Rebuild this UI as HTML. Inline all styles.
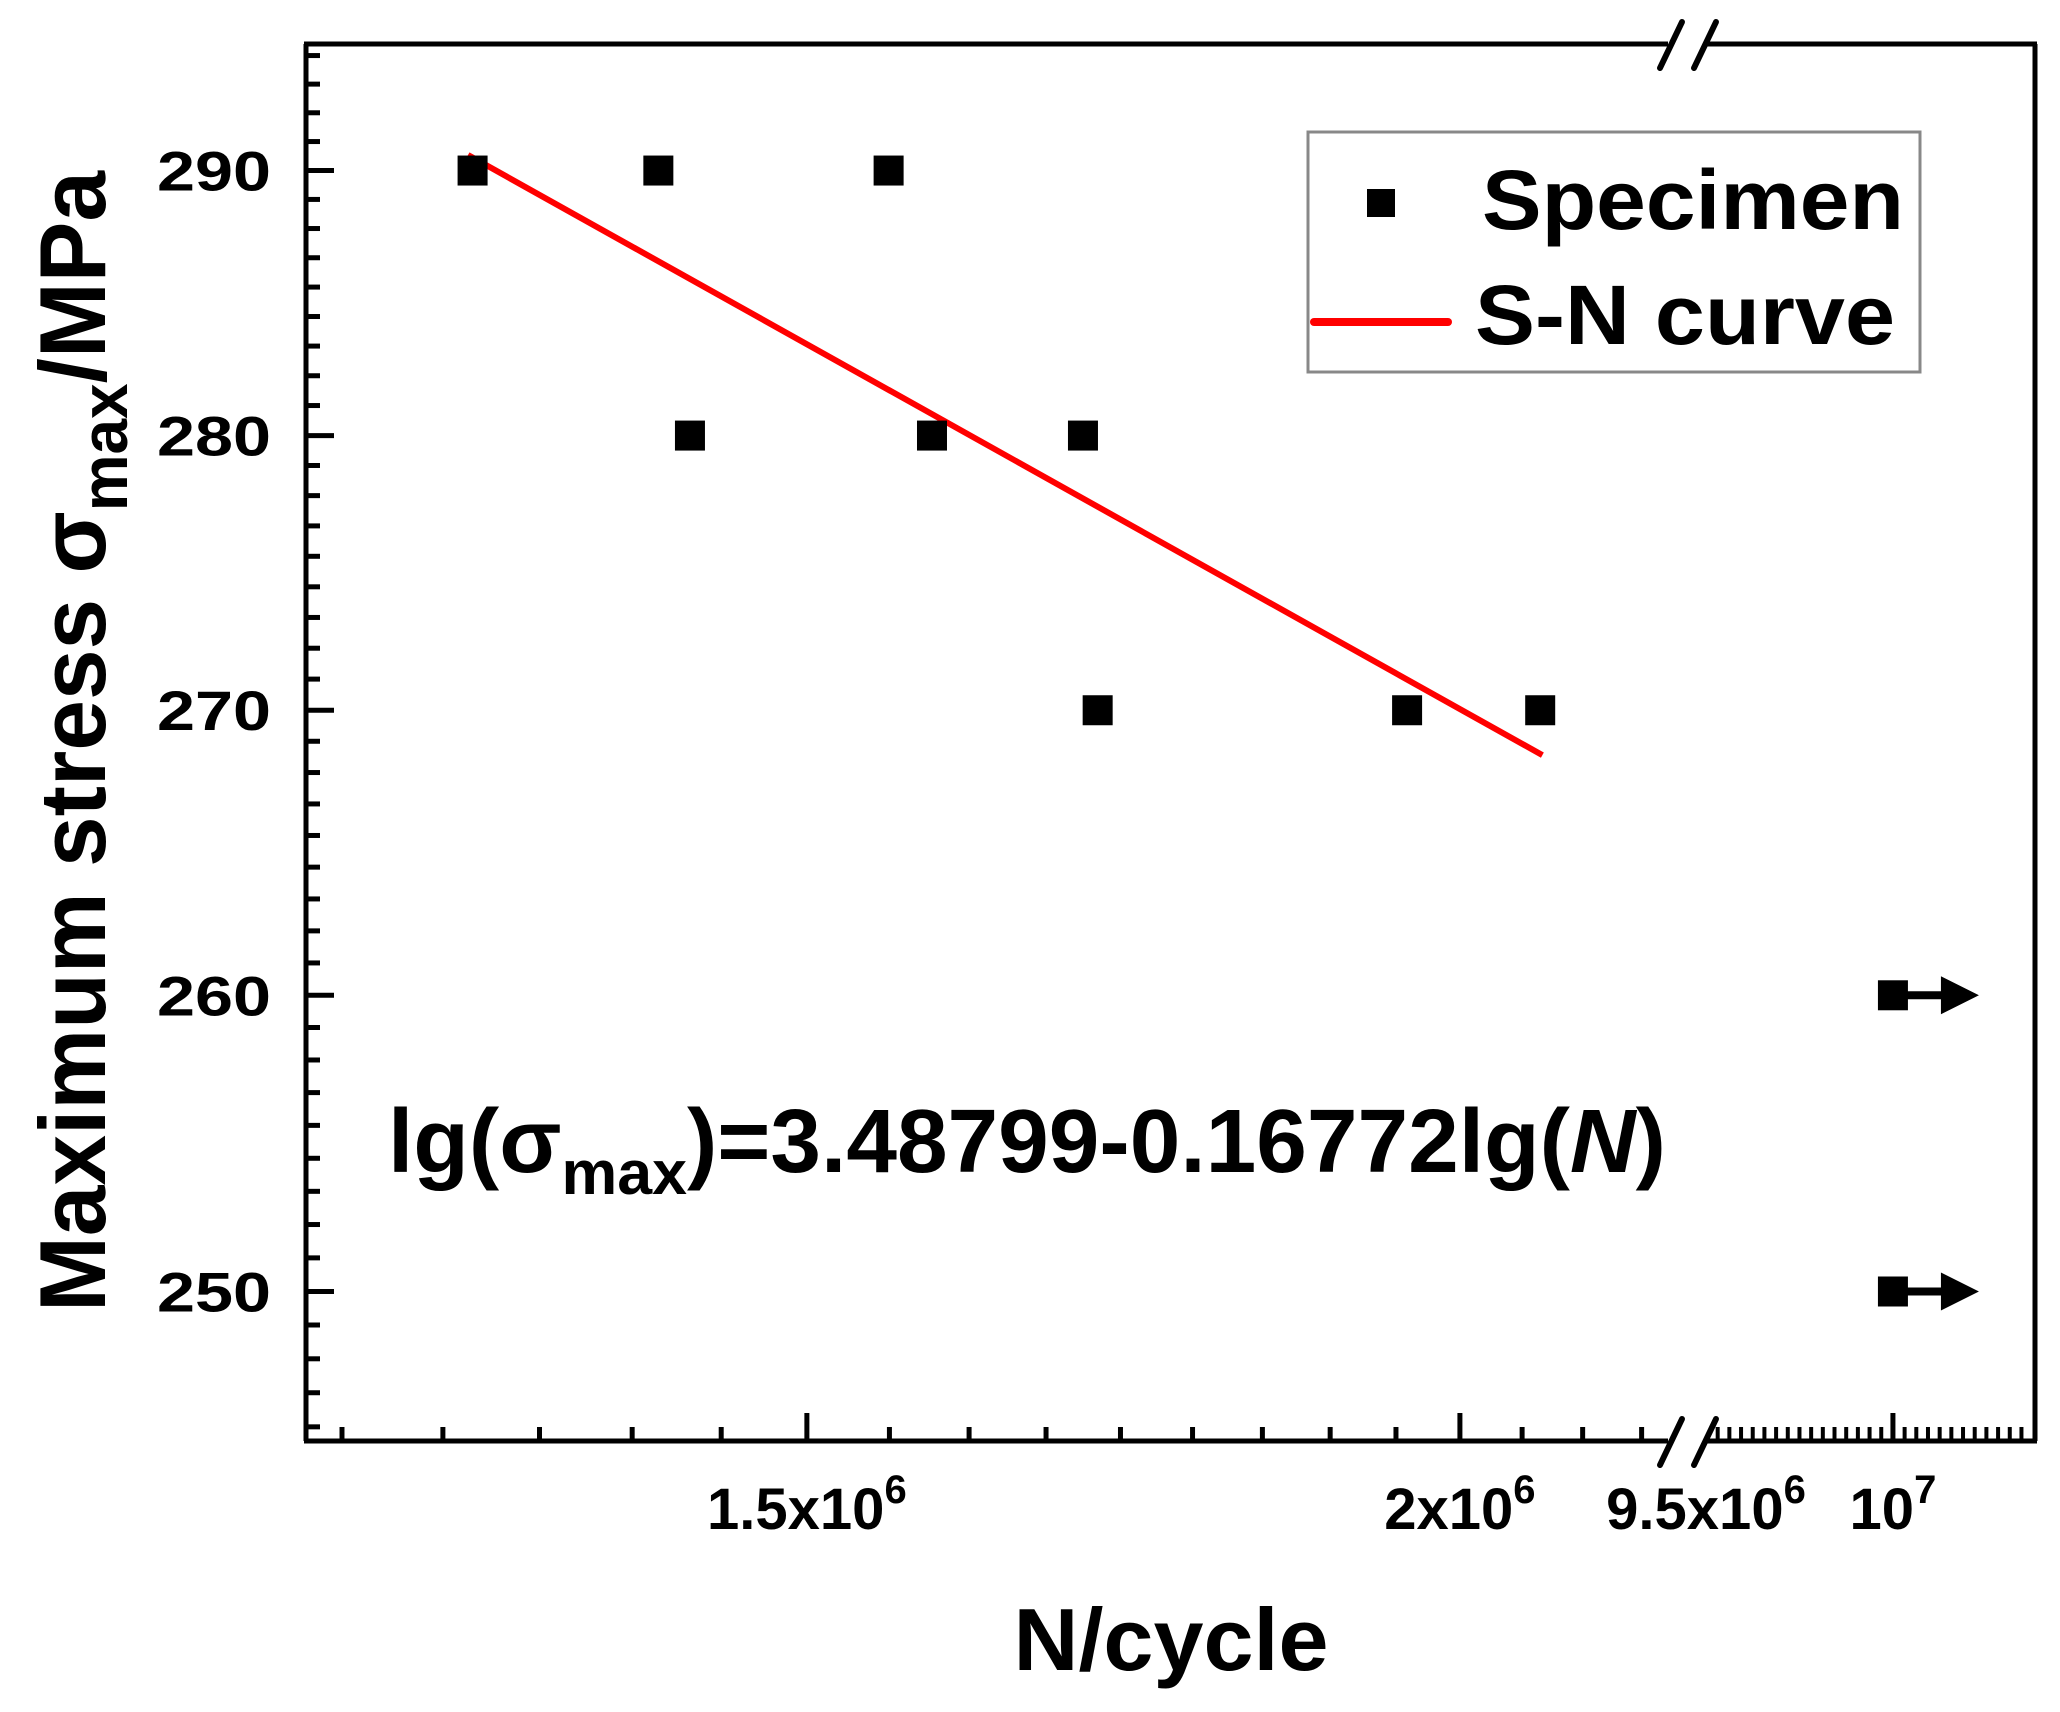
<!DOCTYPE html>
<html><head><meta charset="utf-8"><style>
html,body{margin:0;padding:0;background:#fff;}
svg{display:block;font-family:"Liberation Sans",Arial,sans-serif;font-weight:bold;}
</style></head><body>
<svg id="chart" width="2060" height="1712" viewBox="0 0 2060 1712" xmlns="http://www.w3.org/2000/svg">
<g id="axes"></g>
<g id="marks"></g>
<g>
  <rect x="1308" y="132" width="612" height="240" fill="#fff" stroke="#888" stroke-width="3"/>
  <rect x="1367" y="189" width="28" height="28" fill="#000"/>
  <text x="1482" y="229" font-size="84" textLength="422" lengthAdjust="spacingAndGlyphs">Specimen</text>
  <line x1="1314" y1="322" x2="1448" y2="322" stroke="#f00" stroke-width="8" stroke-linecap="round"/>
  <text x="1475" y="344" font-size="84" textLength="420" lengthAdjust="spacingAndGlyphs">S-N curve</text>
</g>
<text x="388" y="1172" font-size="90" textLength="1278" lengthAdjust="spacingAndGlyphs">lg(σ<tspan font-size="62" dy="22">max</tspan><tspan dy="-22">)=3.48799-0.16772lg(</tspan><tspan font-style="italic">N</tspan>)</text>
<text x="1171" y="1670" font-size="88" text-anchor="middle" textLength="315" lengthAdjust="spacingAndGlyphs">N/cycle</text>
<text transform="translate(105,1312) rotate(-90)" x="0" y="0" font-size="94" textLength="1141" lengthAdjust="spacingAndGlyphs">Maximum stress σ<tspan font-size="66" dy="22">max</tspan><tspan dy="-22">/MPa</tspan></text>
</svg>
<script>
// data
const specimenN = [1.2946e6, 1.405e6, 1.555e6, 1.4247e6, 1.585e6, 1.694e6, 1.705e6, 1.954e6, 2.072e6];
const specimenS = [290, 290, 290, 280, 280, 280, 270, 270, 270];
const runoutN = [1e7, 1e7];
const runoutS = [260, 250];
const curveN = [1.292e6, 2.074e6];
const curveS = [290.6, 268.4];
const yTicks = [250, 260, 270, 280, 290];
const yTickLabels = ["250", "260", "270", "280", "290"];
const xTicks1 = [1.5e6, 2e6];
const xTickLabels1 = ["1.5x10", "2x10"];
const xTickExp1 = ["6", "6"];
const xTicks2 = [9.5e6, 1e7];
const xTickLabels2 = ["9.5x10", "10"];
const xTickExp2 = ["6", "7"];

// layout
const L = 306, R = 2035, T = 44, B = 1441;
const ns = "http://www.w3.org/2000/svg";
const yMin = 245.1, yMax = 294.9;
function y(v){ return B - (Math.log10(v) - Math.log10(yMin)) / (Math.log10(yMax) - Math.log10(yMin)) * (B - T); }
const x1Min = 1.203e6, x1Max = 2.192e6, brk1 = 1668, brk2 = 1706;
function x(v){
  if (v <= x1Max) return L + (Math.log10(v) - Math.log10(x1Min)) / (Math.log10(x1Max) - Math.log10(x1Min)) * (brk1 - L);
  const a = 9.5e6, b = 1.038e7;
  return brk2 + (v - a) / (b - a) * (R - brk2);
}
function el(tag, attrs, parent){
  const e = document.createElementNS(ns, tag);
  for (const k in attrs) e.setAttribute(k, attrs[k]);
  parent.appendChild(e); return e;
}
const axes = document.getElementById('axes');
const marks = document.getElementById('marks');
const sw = 5;
let p;
p = el('line', {x1:L, y1:T, x2:L, y2:B, stroke:'#000','stroke-width':sw}, axes);


p = el('line', {x1:R, y1:T, x2:R, y2:B, stroke:'#000','stroke-width':sw}, axes);


p = el('path', {d:`M${L-2},${T}H${brk1}M${brk2},${T}H${R+2}`, stroke:'#000','stroke-width':sw, fill:'none'}, axes);


p = el('path', {d:`M${L-2},${B}H${brk1}M${brk2},${B}H${R+2}`, stroke:'#000','stroke-width':sw, fill:'none'}, axes);


[T, B].forEach(function(yy){
  const g = el('path', {d:`M${brk1-8},${yy+24}L${brk1+14},${yy-22}M${brk2-12},${yy+24}L${brk2+10},${yy-22}`, stroke:'#000','stroke-width':6,'stroke-linecap':'round', fill:'none'}, axes);
  
  
});
for (let v = 245.56; v < yMax; v += 10/9) {
  const major = yTicks.some(t => Math.abs(t - v) < 0.3);
  if (major) continue;
  const t = el('line', {x1:L, y1:y(v), x2:L+14, y2:y(v), stroke:'#000','stroke-width':5}, axes);
  
  
}
yTicks.forEach(function(v, i){
  const t = el('line', {x1:L, y1:y(v), x2:L+28, y2:y(v), stroke:'#000','stroke-width':5}, axes);
  
  
  const tx = el('text', {x:271, y:y(v)+20, 'font-size':56, 'text-anchor':'end', textLength:114, lengthAdjust:'spacingAndGlyphs'}, axes);
  tx.textContent = yTickLabels[i];
  
  
});
for (let k = -6; k <= 12; k++) {
  const v = 1.5e6 + k * 0.5e6 / 9;
  if (v <= x1Min || v >= x1Max) continue;
  if (k === 0 || k === 9) continue;
  const t = el('line', {x1:x(v), y1:B, x2:x(v), y2:B-14, stroke:'#000','stroke-width':5}, axes);
  
  
}
for (let k = 1; k < 40; k++) {
  const v = 9.5e6 + k * 0.5e6 / 16;
  if (x(v) >= R - 8 || k === 16) continue;
  const t = el('line', {x1:x(v), y1:B, x2:x(v), y2:B-14, stroke:'#000','stroke-width':4}, axes);
  
  
}
function xLabel(v, base, exp, showTick){
  if (showTick) {
    const t = el('line', {x1:x(v), y1:B, x2:x(v), y2:B-28, stroke:'#000','stroke-width':5}, axes);
    
    
  }
  const tx = el('text', {x:x(v), y:1529, 'font-size':58, 'text-anchor':'middle'}, axes);
  
  
  tx.textContent = base;
  const sp = el('tspan', {'font-size':40, dy:-26}, tx);
  sp.textContent = exp;
}
xTicks1.forEach((v, i) => xLabel(v, xTickLabels1[i], xTickExp1[i], true));
xTicks2.forEach((v, i) => xLabel(v, xTickLabels2[i], xTickExp2[i], v > 9.6e6));
p = el('line', {x1:x(curveN[0]), y1:y(curveS[0]), x2:x(curveN[1]), y2:y(curveS[1]), stroke:'#f00','stroke-width':6}, marks);


specimenN.forEach(function(n, i){
  const r = el('rect', {x:x(n)-15, y:y(specimenS[i])-15, width:30, height:30, fill:'#000'}, marks);
  
  
});
runoutN.forEach(function(n, i){
  const cx = x(n), cy = y(runoutS[i]);
  const r = el('rect', {x:cx-15, y:cy-15, width:30, height:30, fill:'#000'}, marks);
  
  
  const a = el('path', {d:`M${cx},${cy-4}H${cx+48}V${cy-19}L${cx+86},${cy}L${cx+48},${cy+19}V${cy+4}H${cx}Z`, fill:'#000'}, marks);
  
  
});
</script>
</body></html>
